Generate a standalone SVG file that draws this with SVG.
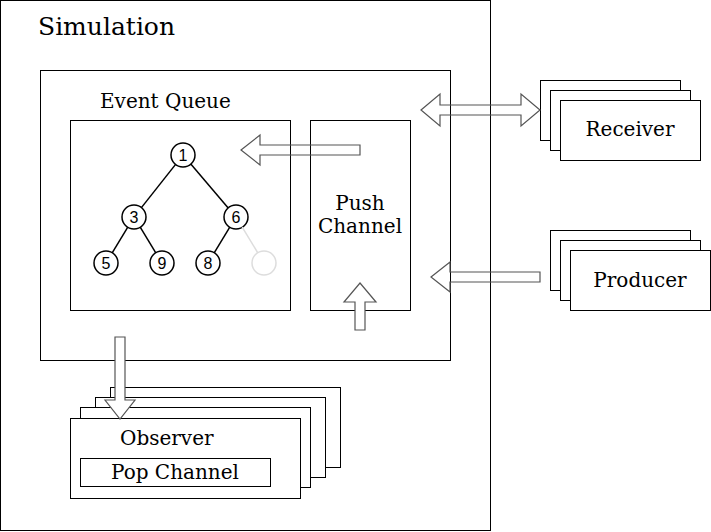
<svg xmlns="http://www.w3.org/2000/svg" width="711" height="532" viewBox="0 0 711 532">
<style>
.box{fill:none;stroke:#000;stroke-width:1}
.card{fill:#fff;stroke:#000;stroke-width:1}
.lbl{font-family:"DejaVu Serif","Liberation Serif",serif;font-size:20px;fill:#000}
.num{font-family:"Liberation Sans",Arial,sans-serif;font-size:16px;fill:#000;text-anchor:middle}
.tn{fill:#fff;stroke:#000;stroke-width:1.5}
.edge{stroke:#000;stroke-width:1.5}
.arr{stroke:#555;stroke-width:1.2;stroke-linejoin:miter}
</style>
<rect width="711" height="532" fill="#fff"/>
<g id="simulation">
<rect class="box" x="0.5" y="0.5" width="490" height="530"/>
<text class="lbl" x="38" y="35" style="font-size:25px">Simulation</text>
</g>
<g id="inner">
<rect class="box" x="40.5" y="70.5" width="410" height="290"/>
<text class="lbl" x="100" y="108">Event Queue</text>
</g>
<g id="event-queue">
<rect class="box" x="70.5" y="120.5" width="220" height="190"/>
</g>
<g id="push-channel">
<rect class="box" x="310.5" y="120.5" width="100" height="190"/>
<text class="lbl" x="360" y="210" text-anchor="middle">Push</text>
<text class="lbl" x="360" y="233" text-anchor="middle">Channel</text>
</g>
<g id="tree">
<g id="n1"><circle class="tn" cx="183" cy="155" r="12"/><text class="num" x="183" y="161">1</text></g>
<g id="n3"><circle class="tn" cx="134" cy="217" r="12"/><text class="num" x="134" y="223">3</text></g>
<g id="n6"><circle class="tn" cx="236" cy="217" r="12"/><text class="num" x="236" y="223">6</text></g>
<g id="n5"><circle class="tn" cx="106" cy="263" r="12"/><text class="num" x="106" y="269">5</text></g>
<g id="n9"><circle class="tn" cx="162" cy="263" r="12"/><text class="num" x="162" y="269">9</text></g>
<g id="n8"><circle class="tn" cx="208" cy="263" r="12"/><text class="num" x="208" y="269">8</text></g>
<g id="nempty"><circle cx="264" cy="263" r="12" fill="#fff" stroke="#ddd" stroke-width="1.5"/></g>
</g>
<g id="receiver">
<rect class="card" x="540.5" y="80.5" width="140" height="60"/>
<rect class="card" x="550.5" y="90.5" width="140" height="60"/>
<rect class="card" x="560.5" y="100.5" width="140" height="60"/>
<text class="lbl" x="630" y="136" text-anchor="middle">Receiver</text>
</g>
<g id="producer">
<rect class="card" x="550.5" y="230.5" width="140" height="60"/>
<rect class="card" x="560.5" y="240.5" width="140" height="60"/>
<rect class="card" x="570.5" y="250.5" width="140" height="60"/>
<text class="lbl" x="640" y="287" text-anchor="middle">Producer</text>
</g>
<g id="observer">
<rect class="card" x="110.5" y="387.5" width="230" height="80"/>
<rect class="card" x="95.5" y="397.5" width="230" height="80"/>
<rect class="card" x="80.5" y="407.5" width="230" height="80"/>
<rect class="card" x="70.5" y="418.5" width="230" height="80"/>
<text class="lbl" x="120" y="445">Observer</text>
<rect class="box" x="80.5" y="458.5" width="190" height="28"/>
<text class="lbl" x="175" y="479" text-anchor="middle">Pop Channel</text>
</g>
<g id="connectors">
<line class="edge" x1="175.6" y1="164.4" x2="141.4" y2="207.6"/>
<line class="edge" x1="190.8" y1="164.1" x2="228.2" y2="207.9"/>
<line class="edge" x1="127.8" y1="227.2" x2="112.2" y2="252.8"/>
<line class="edge" x1="140.2" y1="227.2" x2="155.8" y2="252.8"/>
<line class="edge" x1="229.8" y1="227.2" x2="214.2" y2="252.8"/>
<line x1="242.2" y1="227.2" x2="257.8" y2="252.8" stroke="#ddd" stroke-width="1.5"/>
<polygon class="arr" fill="none" points="241,150 260,135 260,145 360,145 360,155 260,155 260,165"/>
<polygon class="arr" fill="none" points="421,110 440,94 440,105 521,105 521,94 540,110 521,126 521,115 440,115 440,126"/>
<polygon class="arr" fill="none" points="431,277 450,262 450,272 540,272 540,282 450,282 450,292"/>
<polygon class="arr" fill="#fff" points="360,283 376,302 365,302 365,330 355,330 355,302 344,302"/>
<polygon class="arr" fill="#fff" points="115,337 125,337 125,400 135,400 120,419 105,400 115,400"/>
</g>
</svg>
